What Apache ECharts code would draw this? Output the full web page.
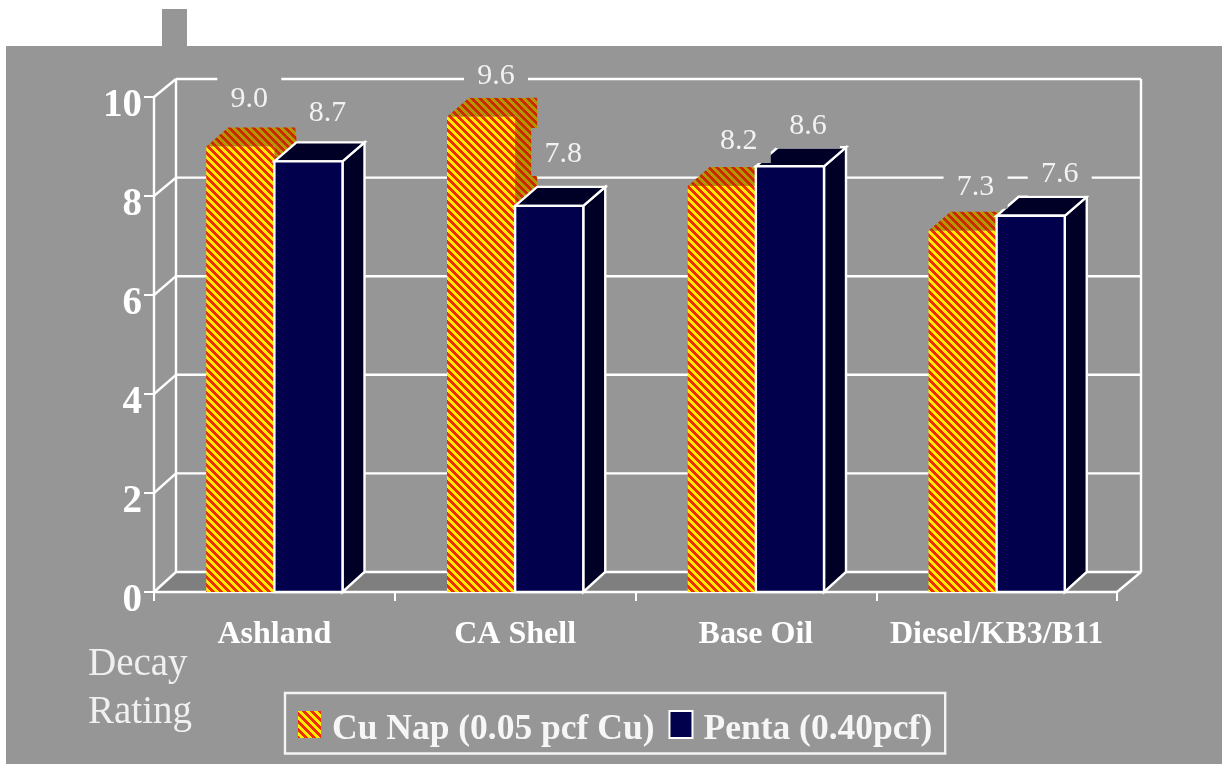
<!DOCTYPE html>
<html><head><meta charset="utf-8">
<style>html,body{margin:0;padding:0;background:#fff}#c{width:1222px;height:764px}</style>
<script src="https://cdn.jsdelivr.net/npm/echarts@6/dist/echarts.min.js"></script>
</head><body><div id="c"></div>
<script>
const categories = ['Ashland', 'CA Shell', 'Base Oil', 'Diesel/KB3/B11'];
const cuNapValues = [9.0, 9.6, 8.2, 7.3];
const pentaValues = [8.7, 7.8, 8.6, 7.6];
const cuNapName = 'Cu Nap (0.05 pcf Cu)';
const pentaName = 'Penta (0.40pcf)';
const yTicks = [0, 2, 4, 6, 8, 10];
const yAxisTitle = 'Decay\nRating';

// presentation only
const SERIF = '"Liberation Serif","Times New Roman",serif';
const BG = '#969696', NAVY = '#00004d', NAVY_DARK = '#000026', FLOOR = '#7f7f7f';
const DX = 22, DY = 20, BAR_RATIO = 0.283, LINE = 2.4;
const cuLabelShift = [[9, -47], [15, -41], [17, -45], [13, -44]];
const pentaLabelShift = [[19, -48], [14, -52], [18, -40], [29, -42]];

function hatch(c1, c2) {
  const t = document.createElement('canvas');
  t.width = t.height = 8;
  const g = t.getContext('2d');
  for (let x = 0; x < 8; x++) for (let y = 0; y < 8; y++) {
    g.fillStyle = ((x - y + 8) % 8) < 4 ? c1 : c2;
    g.fillRect(x, y, 1, 1);
  }
  return { image: t, repeat: 'repeat' };
}
const cuFront = hatch('#ffee00', '#f02c00');
const cuDark = hatch('#b09a00', '#cc2800');

function poly(points, style) { return { type: 'polygon', shape: { points }, style }; }
function seg(x1, y1, x2, y2) {
  return { type: 'line', shape: { x1, y1, x2, y2 }, style: { stroke: '#fff', lineWidth: LINE } };
}

function renderFrame(params, api) {
  const cs = params.coordSys;
  const L = cs.x, R = cs.x + cs.width;
  const t = api.value(1);
  const y = api.coord([0, t])[1];
  const dy = DY - 0.2 * t;
  const kids = [];
  if (t === 0) {
    kids.push(poly([[L, y], [L + DX, y - DY], [R + DX + 2, y - DY], [R, y]], { fill: FLOOR }));
    const top = api.coord([0, 10])[1] - (DY - 2);
    kids.push(seg(L + DX, top, L + DX, y - DY));
    kids.push(seg(R + DX + 2, top, R + DX + 2, y - DY));
    kids.push(seg(R, y, R + DX + 2, y - DY));
  }
  kids.push(seg(L, y, L + DX, y - dy));
  kids.push(seg(L + DX, y - dy, R + DX + 2, y - dy));
  return { type: 'group', children: kids };
}

function barRenderer(side, front, dark, top, stroke) {
  return function (params, api) {
    const i = api.value(0);
    const p = api.coord([i, api.value(1)]);
    const b = api.coord([i, 0]);
    const w = api.size([1, 0])[0] * BAR_RATIO;
    const x0 = side < 0 ? p[0] - w : p[0];
    const x1 = x0 + w, yT = p[1], yB = b[1];
    const st = f => stroke ? { fill: f, stroke: '#fff', lineWidth: LINE } : { fill: f };
    return {
      type: 'group', children: [
        poly([[x1, yT], [x1 + DX, yT - DY + 1], [x1 + DX, yB - DY], [x1, yB]], st(dark)),
        poly([[x0, yT], [x0 + DX, yT - DY + 1], [x1 + DX, yT - DY + 1], [x1, yT]], st(top)),
        poly([[x0, yT], [x1, yT], [x1, yB], [x0, yB]], st(front))
      ]
    };
  };
}

function renderLabel(params, api) {
  const i = api.value(0), v = api.value(1), s = api.value(2);
  const p = api.coord([i, v]);
  const w = api.size([1, 0])[0] * BAR_RATIO;
  const shift = (s === 0 ? cuLabelShift : pentaLabelShift)[i];
  const cx = p[0] + (s === 0 ? -w / 2 : w / 2) + shift[0];
  const cy = p[1] + shift[1];
  return {
    type: 'group', children: [
      { type: 'rect', shape: { x: cx - 32, y: cy - 26, width: 64, height: 48 }, style: { fill: BG } },
      { type: 'text', style: { x: cx, y: cy, text: v.toFixed(1), fill: '#f2f2f2', font: '30px ' + SERIF, align: 'center', verticalAlign: 'middle' } }
    ]
  };
}

const chart = echarts.init(document.getElementById('c'), null, { renderer: 'canvas' });
chart.setOption({
  animation: false,
  backgroundColor: '#ffffff',
  title: {
    text: yAxisTitle, left: 83, top: 636,
    textStyle: { fontFamily: SERIF, fontSize: 39, fontWeight: 'normal', color: '#f0f0f0', lineHeight: 48 }
  },
  graphic: [
    { type: 'rect', z: -10, silent: true, shape: { x: 6, y: 46, width: 1216, height: 718 }, style: { fill: BG } },
    { type: 'rect', z: -10, silent: true, shape: { x: 162, y: 9, width: 25, height: 37 }, style: { fill: BG } }
  ],
  grid: { left: 154, right: 105, top: 97, bottom: 172 },
  legend: {
    left: 285, top: 693,
    orient: 'horizontal',
    padding: [17, 13, 6, 13],
    itemWidth: 23, itemHeight: 27, itemGap: 14,
    borderColor: '#f4f4f4', borderWidth: 2.4,
    selectedMode: false,
    formatter: n => '{t|' + n + '}',
    textStyle: {
      rich: { t: { fontFamily: SERIF, fontSize: 35.5, fontWeight: 'bold', color: '#f6f6f6', padding: [10, 0, 0, 6] } }
    },
    data: [
      { name: cuNapName, icon: 'rect', itemStyle: { color: cuFront, borderWidth: 0 } },
      { name: pentaName, icon: 'rect', itemStyle: { color: NAVY, borderColor: '#fff', borderWidth: 2 } }
    ]
  },
  xAxis: {
    type: 'category', data: categories,
    axisLine: { lineStyle: { color: '#fff', width: LINE } },
    axisTick: { show: true, alignWithLabel: false, length: 9, lineStyle: { color: '#fff', width: 2 } },
    axisLabel: { color: '#fff', fontFamily: SERIF, fontSize: 32, fontWeight: 'bold', margin: 27, interval: 0 },
    z: 3
  },
  yAxis: {
    type: 'value', min: 0, max: 10, interval: 2,
    splitLine: { show: false },
    axisLine: { show: true, lineStyle: { color: '#fff', width: LINE } },
    axisTick: { show: true, length: 10, lineStyle: { color: '#fff', width: 2 } },
    axisLabel: { color: '#fff', fontFamily: SERIF, fontSize: 39, fontWeight: 'bold', margin: 12, verticalAlign: 'top', lineHeight: 18 },
    z: 3
  },
  series: [
    { type: 'custom', name: 'frame', silent: true, z: 1, renderItem: renderFrame,
      data: yTicks.map(t => [0, t]), encode: { x: 0, y: 1 } },
    { type: 'custom', name: cuNapName, silent: true, z: 5,
      renderItem: barRenderer(-1, cuFront, cuDark, cuDark, false),
      data: cuNapValues.map((v, i) => [i, v]), encode: { x: 0, y: 1 } },
    { type: 'custom', name: pentaName, silent: true, z: 6,
      renderItem: barRenderer(1, NAVY, NAVY_DARK, NAVY_DARK, true),
      data: pentaValues.map((v, i) => [i, v]), encode: { x: 0, y: 1 } },
    { type: 'custom', name: 'labels', silent: true, z: 8, renderItem: renderLabel,
      data: cuNapValues.map((v, i) => [i, v, 0]).concat(pentaValues.map((v, i) => [i, v, 1])),
      encode: { x: 0, y: 1 } }
  ]
});
</script></body></html>
